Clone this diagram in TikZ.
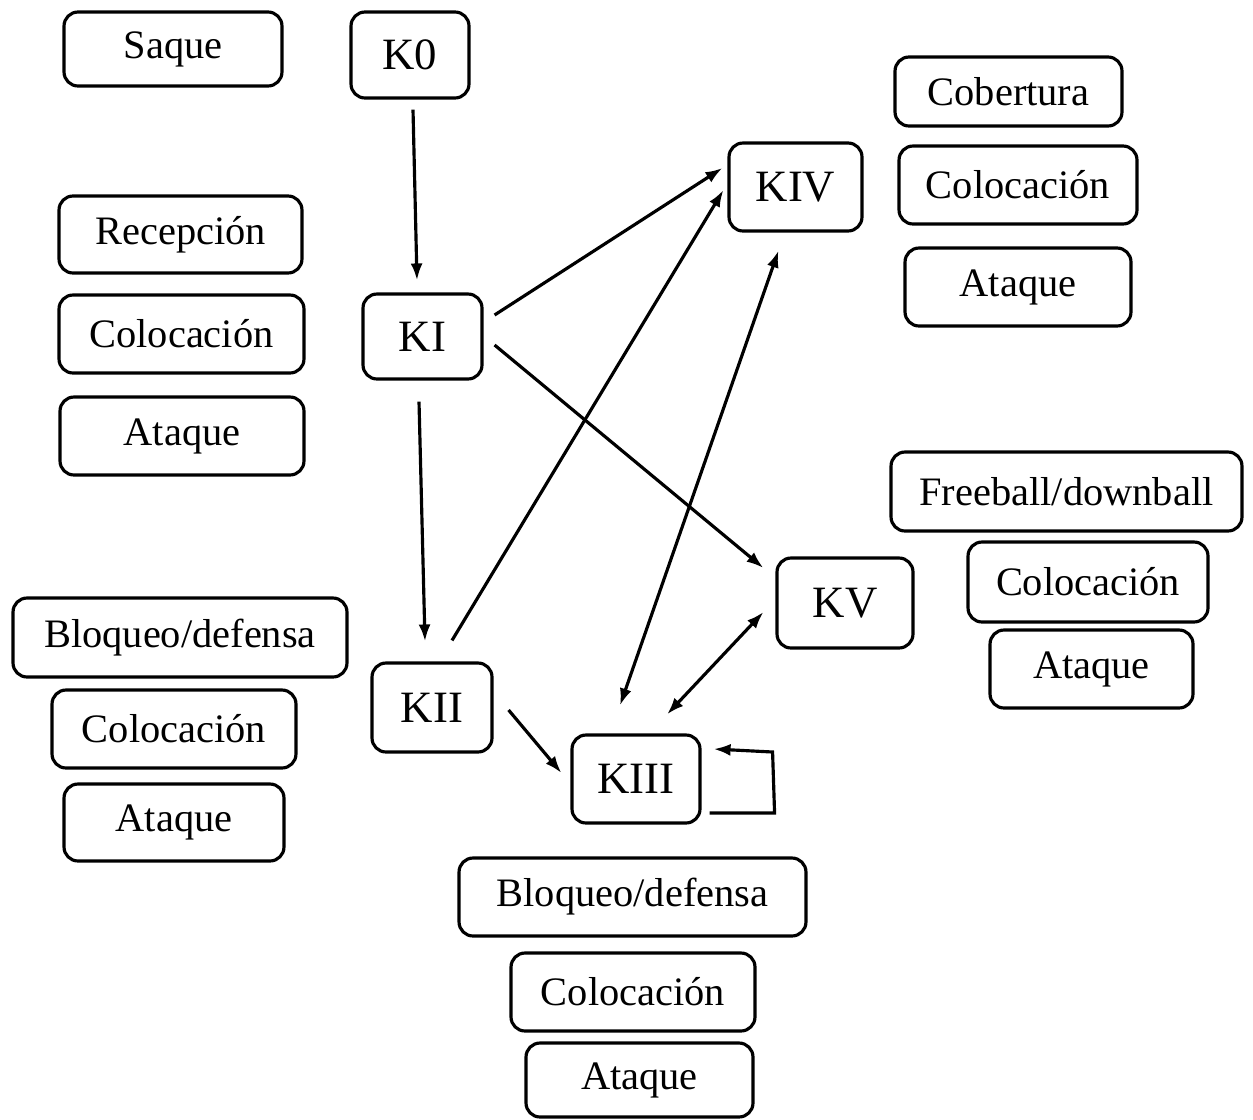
\documentclass[tikz,border=0pt]{standalone}
\usepackage{fontspec}
\setmainfont{Liberation Serif}
\usetikzlibrary{arrows.meta,calc}
\begin{document}
\begin{tikzpicture}[x=0.02cm,y=-0.02cm,
  box/.style={draw,line width=1.8pt,rounded corners=0.28cm,inner sep=0pt,font=\fontsize{23}{27}\selectfont},
  kbox/.style={box,font=\fontsize{25.5}{30}\selectfont},
  arr/.style={line width=1.8pt,-{Latex[length=0.34cm,width=0.24cm]}},
  darr/.style={line width=1.8pt,{Latex[length=0.34cm,width=0.24cm]}-{Latex[length=0.34cm,width=0.24cm]}}]
\useasboundingbox (0,0) rectangle (1253,1119);
% key nodes
\node[kbox,minimum width=2.36cm,minimum height=1.72cm] (K0) at (410,55) {K0};
\node[kbox,minimum width=2.38cm,minimum height=1.7cm] (KI) at (422.5,336.5) {KI};
\node[kbox,minimum width=2.4cm,minimum height=1.78cm] (KII) at (432,707.5) {KII};
\node[kbox,minimum width=2.56cm,minimum height=1.76cm] (KIII) at (636,779) {KIII};
\node[kbox,minimum width=2.66cm,minimum height=1.76cm] (KIV) at (795.5,187) {KIV};
\node[kbox,minimum width=2.72cm,minimum height=1.8cm] (KV) at (845,603) {KV};
% K0
\node[box,minimum width=4.36cm,minimum height=1.48cm] (saque) at (173,49) {Saque};
% KI
\node[box,minimum width=4.86cm,minimum height=1.54cm] (recI) at (180.5,234.5) {Recepción};
\node[box,minimum width=4.9cm,minimum height=1.56cm] (colI) at (181.5,334) {Colocación};
\node[box,minimum width=4.88cm,minimum height=1.56cm] (ataI) at (182,436) {Ataque};
% KII
\node[box,minimum width=6.68cm,minimum height=1.58cm] (bloII) at (180,637.5) {Bloqueo/defensa};
\node[box,minimum width=4.88cm,minimum height=1.56cm] (colII) at (174,729) {Colocación};
\node[box,minimum width=4.4cm,minimum height=1.54cm] (ataII) at (174,822.5) {Ataque};
% KIII
\node[box,minimum width=6.94cm,minimum height=1.56cm] (bloIII) at (632.5,897) {Bloqueo/defensa};
\node[box,minimum width=4.88cm,minimum height=1.56cm] (colIII) at (633,992) {Colocación};
\node[box,minimum width=4.54cm,minimum height=1.48cm] (ataIII) at (639.5,1080) {Ataque};
% KIV
\node[box,minimum width=4.54cm,minimum height=1.38cm] (cobIV) at (1008.5,91.5) {Cobertura};
\node[box,minimum width=4.76cm,minimum height=1.56cm] (colIV) at (1018,185) {Colocación};
\node[box,minimum width=4.52cm,minimum height=1.56cm] (ataIV) at (1018,287) {Ataque};
% KV
\node[box,minimum width=7.02cm,minimum height=1.58cm] (freV) at (1066.5,491.5) {Freeball/downball};
\node[box,minimum width=4.8cm,minimum height=1.6cm] (colV) at (1088,582) {Colocación};
\node[box,minimum width=4.06cm,minimum height=1.56cm] (ataV) at (1091.5,669) {Ataque};
% connectors
\draw[arr] ($(K0.south)+(3,10)$) -- ($(KI.north)+(-5.5,-12)$);
\draw[arr] ($(KI.south)+(-3.5,21)$) -- ($(KII.north)+(-7,-20)$);
\draw[arr] ($(KI.east)+(11,-21.5)$) -- ($(KIV.west)+(-5,-19)$);
\draw[arr] ($(KI.east)+(11,8.5)$) -- ($(KV.west)+(-12,-35)$);
\draw[arr] ($(KII.north)+(20,-21)$) -- ($(KIV.west)+(-4,3)$);
\draw[darr] ($(KIII.north)+(-16,-28)$) -- ($(KIV.south)+(-17,18)$);
\draw[darr] ($(KIII.north)+(31,-19)$) -- ($(KV.west)+(-12,9)$);
\draw[arr] ($(KII.east)+(15,2.5)$) -- ($(KIII.west)+(-9,-6)$);
\coordinate (loopA) at ($(KIII.east)+(73,34)$);
\coordinate (loopB) at ($(KIII.east)+(71,-27)$);
\draw[arr] ($(KIII.east)+(8,34)$) -- (loopA) -- (loopB) -- ($(KIII.east)+(12,-30)$);
\end{tikzpicture}
\end{document}
